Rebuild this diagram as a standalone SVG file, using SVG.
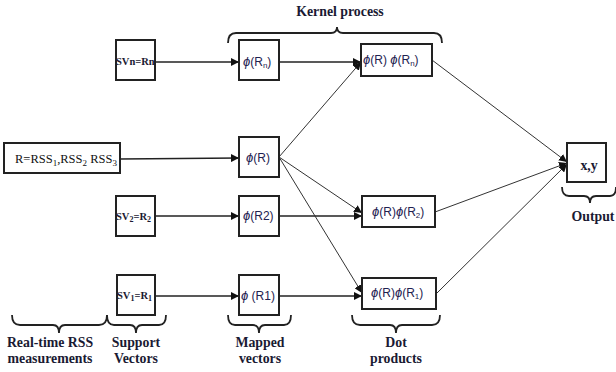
<svg xmlns="http://www.w3.org/2000/svg" width="616" height="372" viewBox="0 0 616 372">
<style>
.box{fill:#fff;stroke:#222;stroke-width:2}
.lab{font-family:"Liberation Serif",serif;font-weight:bold;font-size:13.8px;fill:#1a1a33;text-anchor:middle}
.sv{font-family:"Liberation Serif",serif;font-weight:bold;font-size:10.5px;fill:#1a1a33}
.phi{font-family:"Liberation Sans",sans-serif;font-size:12px;fill:#1e2250}
.rss{font-family:"Liberation Serif",serif;font-size:12.5px;fill:#111}
.ln{stroke:#222;stroke-width:1.3;fill:none}
.thin{stroke:#333;stroke-width:1;fill:none}
.br{stroke:#222;stroke-width:1.8;fill:none}
</style>
<defs>
<marker id="ah" viewBox="0 0 10 10" refX="10" refY="5" markerWidth="8" markerHeight="8" markerUnits="userSpaceOnUse" orient="auto">
<path d="M0,0 L10,5 L0,10 Z" fill="#111"/>
</marker>
</defs>
<g id="connectors">
<line class="ln" x1="155" y1="62" x2="239" y2="62" marker-end="url(#ah)"/>
<line class="ln" x1="120" y1="159" x2="239" y2="158" marker-end="url(#ah)"/>
<line class="ln" x1="155" y1="216" x2="239" y2="216" marker-end="url(#ah)"/>
<line class="ln" x1="155" y1="296" x2="239" y2="296" marker-end="url(#ah)"/>
<line class="ln" x1="279" y1="62" x2="361" y2="62" marker-end="url(#ah)"/>
<line class="ln" x1="279" y1="216" x2="362" y2="216" marker-end="url(#ah)"/>
<line class="ln" x1="279" y1="296" x2="362" y2="296" marker-end="url(#ah)"/>
<line class="thin" x1="279" y1="157" x2="361" y2="62" marker-end="url(#ah)"/>
<line class="thin" x1="279" y1="157" x2="362" y2="213" marker-end="url(#ah)"/>
<line class="thin" x1="279" y1="157" x2="362" y2="293" marker-end="url(#ah)"/>
<line class="thin" x1="432" y1="60" x2="567" y2="162" marker-end="url(#ah)"/>
<line class="thin" x1="435" y1="212" x2="567" y2="163" marker-end="url(#ah)"/>
<line class="thin" x1="437" y1="293" x2="567" y2="164" marker-end="url(#ah)"/>
</g>
<g id="svn"><rect class="box" x="116" y="40" width="39" height="40"/><text class="sv" x="116" y="65">SVn=Rn</text></g>
<g id="svr"><rect class="box" x="4" y="143" width="116" height="30"/><text class="rss" x="15" y="163">R=RSS<tspan font-size="9" dy="3">1</tspan><tspan dy="-3">,RSS</tspan><tspan font-size="9" dy="3">2</tspan><tspan dy="-3"> RSS</tspan><tspan font-size="9" dy="3">3</tspan></text></g>
<g id="sv2"><rect class="box" x="116" y="196" width="39" height="40"/><text class="sv" x="116" y="220">SV<tspan font-size="8" dy="2">2</tspan><tspan dy="-2">=R</tspan><tspan font-size="8" dy="2">2</tspan></text></g>
<g id="sv1"><rect class="box" x="117" y="275" width="38" height="40"/><text class="sv" x="117" y="299">SV<tspan font-size="8" dy="2">1</tspan><tspan dy="-2">=R</tspan><tspan font-size="8" dy="2">1</tspan></text></g>
<g id="phin"><rect class="box" x="239" y="40" width="40" height="40"/><text class="phi" x="243" y="66"><tspan font-style="italic" font-size="13">ϕ</tspan>(R<tspan font-size="8" dy="2">n</tspan><tspan dy="-2">)</tspan></text></g>
<g id="phir"><rect class="box" x="239" y="137" width="40" height="40"/><text class="phi" x="246" y="162"><tspan font-style="italic" font-size="13">ϕ</tspan>(R)</text></g>
<g id="phi2"><rect class="box" x="239" y="196" width="40" height="40"/><text class="phi" x="243" y="220"><tspan font-style="italic" font-size="13">ϕ</tspan>(R2)</text></g>
<g id="phi1"><rect class="box" x="239" y="275" width="40" height="40"/><text class="phi" x="241" y="300"><tspan font-style="italic" font-size="13">ϕ</tspan> (R1)</text></g>
<g id="dotn"><rect class="box" x="361" y="44" width="71" height="32"/><text class="phi" x="363" y="64"><tspan font-style="italic" font-size="13">ϕ</tspan>(R) <tspan font-style="italic" font-size="13">ϕ</tspan>(R<tspan font-size="8" dy="2">n</tspan><tspan dy="-2">)</tspan></text></g>
<g id="dot2"><rect class="box" x="362" y="196" width="73" height="31"/><text class="phi" x="372" y="216"><tspan font-style="italic" font-size="13">ϕ</tspan>(R)<tspan font-style="italic" font-size="13">ϕ</tspan>(R<tspan font-size="8" dy="2">2</tspan><tspan dy="-2">)</tspan></text></g>
<g id="dot1"><rect class="box" x="362" y="278" width="74" height="31"/><text class="phi" x="371" y="297"><tspan font-style="italic" font-size="13">ϕ</tspan>(R)<tspan font-style="italic" font-size="13">ϕ</tspan>(R<tspan font-size="8" dy="2">1</tspan><tspan dy="-2">)</tspan></text></g>
<g id="out"><rect class="box" x="567" y="143" width="39" height="39"/><text class="lab" x="589" y="170" font-size="12">x,y</text></g>
<g id="braces">
<path class="br" d="M228,43 Q228,33 236,33 L331,33 Q337,33 337,27 Q337,33 343,33 L434,33 Q442,33 442,43"/>
<path class="br" d="M12,315 Q12,325 20,325 L53,325 Q59,325 59,333 Q59,325 65,325 L99,325 Q107,325 107,315"/>
<path class="br" d="M107,315 Q107,325 114,325 L130,325 Q136,325 136,333 Q136,325 142,325 L159,325 Q166,325 166,315"/>
<path class="br" d="M228,315 Q228,325 235,325 L253,325 Q259,325 259,333 Q259,325 265,325 L284,325 Q291,325 291,315"/>
<path class="br" d="M352,315 Q352,325 360,325 L390,325 Q396,325 396,333 Q396,325 402,325 L432,325 Q440,325 440,315"/>
<path class="br" d="M562,187 Q562,196 569,196 L584,196 Q590,196 590,203 Q590,196 596,196 L610,196 Q616,196 616,187"/>
</g>
<g id="labels">
<text class="lab" x="340" y="16">Kernel process</text>
<text class="lab" x="593" y="221">Output</text>
<text class="lab" x="50" y="347">Real-time RSS</text>
<text class="lab" x="50" y="363">measurements</text>
<text class="lab" x="136" y="347">Support</text>
<text class="lab" x="136" y="363">Vectors</text>
<text class="lab" x="260" y="347">Mapped</text>
<text class="lab" x="260" y="363">vectors</text>
<text class="lab" x="396" y="347">Dot</text>
<text class="lab" x="396" y="363">products</text>
</g>
</svg>
